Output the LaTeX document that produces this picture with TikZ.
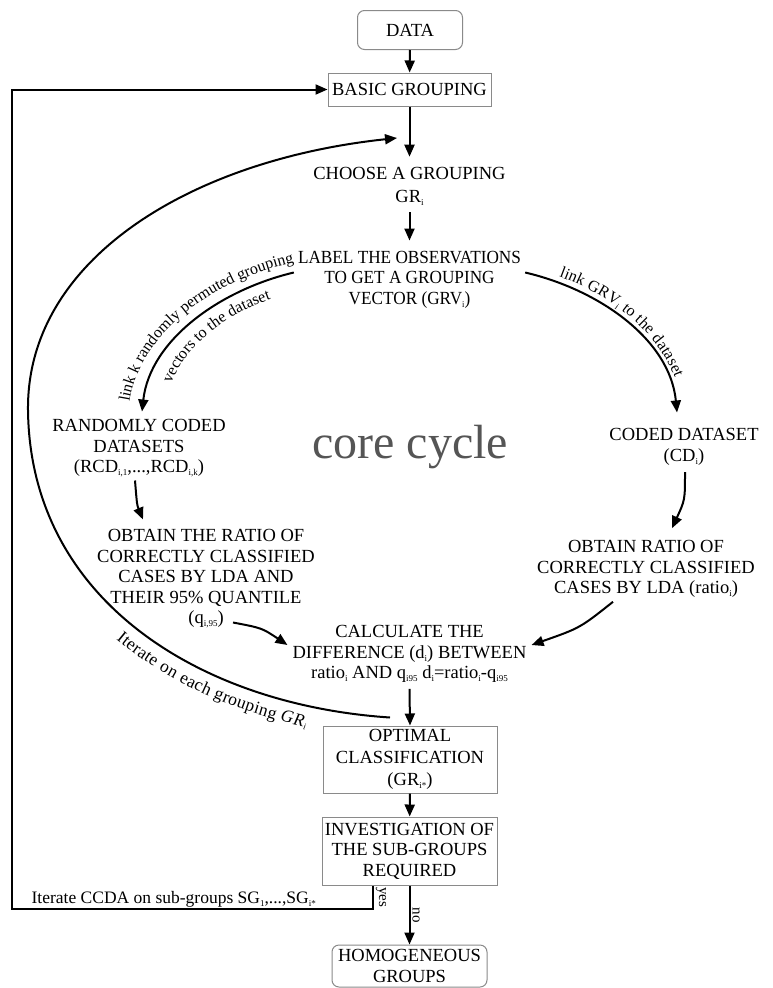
\documentclass[tikz,border=0pt]{standalone}
\usepackage{fontspec}
\setmainfont{Liberation Serif}
\usetikzlibrary{arrows.meta,calc,decorations.text}
\definecolor{boxgray}{HTML}{8A8A8A}
\definecolor{coregray}{HTML}{555555}
\newcommand\mf{\fontsize{18.5}{20.5}\selectfont}
\newcommand\lf{\fontsize{16}{17}\selectfont}
\newcommand\itf{\fontsize{17.5}{19}\selectfont}
\newcommand\sbs[1]{\raisebox{-0.35ex}{\fontsize{9}{9}\selectfont #1}}
\begin{document}
\begin{tikzpicture}[x=1pt,y=-1pt,
  txt/.style={align=center,font=\mf,inner sep=0pt},
  box/.style={draw=boxgray,line width=1pt,align=center,font=\mf,inner sep=1pt},
  rbox/.style={box,rounded corners=7pt},
  arr/.style={-{Triangle[length=12pt,width=10pt]},line width=2pt},
  side/.style={font=\fontsize{15}{15}\selectfont,inner sep=2pt}]
\fill[white] (0,0) rectangle (772,988);
\useasboundingbox (0,0) rectangle (772,988);

% nodes
\node[rbox,minimum width=105pt,minimum height=39pt] (data) at (410,30) {DATA};
\node[box,minimum width=163pt,minimum height=33pt] (basic) at (409.5,89.5) {BASIC GROUPING};
\node[txt] (choose) at (409.5,186) {CHOOSE A GROUPING\\[2.5pt] GR\sbs{i}};
\node[txt] (label) at (409.5,279.5) {\scalebox{0.93}[1]{\begin{tabular}{@{}c@{}}LABEL THE OBSERVATIONS\\TO GET A GROUPING\\VECTOR (GRV\sbs{i})\end{tabular}}};
\node[txt] (rcd) at (139,448.5) {RANDOMLY CODED\\DATASETS\\(RCD\sbs{i,1},...,RCD\sbs{i,k})};
\node[txt] (cd) at (684,447) {CODED DATASET\\(CD\sbs{i})};
\node[txt] (obl) at (206,579) {OBTAIN THE RATIO OF\\CORRECTLY CLASSIFIED\\CASES BY LDA AND\\THEIR 95\% QUANTILE\\(q\sbs{i,95})};
\node[txt] (obr) at (646,569) {OBTAIN RATIO OF\\CORRECTLY CLASSIFIED\\CASES BY LDA (ratio\sbs{i})};
\node[txt] (diff) at (409.5,654) {CALCULATE THE\\DIFFERENCE (d\sbs{i}) BETWEEN\\ratio\sbs{i} AND q\sbs{i95} d\sbs{i}=ratio\sbs{i}-q\sbs{i95}};
\node[box,minimum width=174pt,minimum height=67pt] (opt) at (410,759.5) {OPTIMAL\\[1.5pt]CLASSIFICATION\\[1.5pt](GR\sbs{i*})};
\node[box,minimum width=175pt,minimum height=68pt] (inv) at (409.5,851) {INVESTIGATION OF\\THE SUB-GROUPS\\REQUIRED};
\node[rbox,minimum width=155pt,minimum height=42pt] (hom) at (409.5,966) {HOMOGENEOUS\\GROUPS};
\node[font=\fontsize{48}{48}\selectfont,text=coregray,anchor=base,inner sep=0pt] (core) at (410,458) {core cycle};

% coordinates for free ends
\coordinate (c1a) at ([xshift=-4pt,yshift=7pt]label.west);
\coordinate (c1b) at ([xshift=3pt,yshift=8pt]rcd.north);
\coordinate (c2a) at ([xshift=4pt,yshift=7pt]label.east);
\coordinate (c2b) at ([xshift=-7pt,yshift=16pt]cd.north);
\coordinate (itstart) at ([xshift=-20pt,yshift=8pt]opt.north);
\coordinate (itend) at (397,138);
\coordinate (loopbl) at (12,909);
\coordinate (looptl) at (loopbl |- basic.west);

% straight arrows
\draw[arr] (data) -- (basic);
\draw[arr] (basic.south) -- ([yshift=10pt]choose.north);
\draw[arr] ([yshift=-7pt]choose.south) -- ([yshift=8pt]label.north);
\draw[arr] ([yshift=-6pt]diff.south) -- (opt.north);
\draw[arr] (opt) -- (inv);
\draw[arr] (inv) -- node[side,pos=.5,rotate=-90,anchor=south] (no) {no} (hom);

% curved arrows of the core cycle
\draw[arr] (c1a) .. controls (220,290) and (150,340) .. (c1b);
\path[decorate,decoration={text along path,text={|\lf|link k randomly permuted grouping},text align=center}] (129,404) .. controls (139,333) and (215,279) .. (296,262);
\path[decorate,decoration={text along path,text={|\lf|vectors to the dataset},text align=center}] (164,416) .. controls (168,351) and (228,307) .. (303,290);

\draw[arr] (c2a) .. controls (600,290) and (670,340) .. (c2b);
\path[decorate,decoration={text along path,text={|\lf|link GRV{\sbs{i}} to the dataset},text align=center,raise=6pt}] (c2a) .. controls (600,290) and (670,340) .. (c2b);

\draw[arr] ([xshift=-4pt,yshift=-3pt]rcd.south) .. controls (137,505) .. ([xshift=-63pt,yshift=10pt]obl.north);
\draw[arr] ([xshift=1pt,yshift=-6.5pt]cd.south) .. controls (685,500) .. ([xshift=26pt,yshift=12pt]obr.north);
\draw[arr] ([xshift=27pt,yshift=6pt]obl.south) .. controls (262,628) .. ([xshift=-5pt,yshift=9pt]diff.west);
\draw[arr] ([xshift=-33pt,yshift=-4pt]obr.south) .. controls (580,628) .. ([xshift=5pt,yshift=9pt]diff.east);

% iterate loop
\draw[arr] (itstart) .. controls (200,705) and (30,600) .. (28,410) .. controls (26.4,260) and (190,160) .. (itend);
\path[decorate,decoration={text along path,text={|\itf|Iterate on each grouping |\itf\itshape|GR{\sbs{i}}},text align={left indent=244pt},raise=-21pt}] (28,410) .. controls (30,600) and (200,705) .. (itstart);

% sub-group loop
\draw[arr] ([xshift=-36.5pt]inv.south) |- node[side,pos=.25,rotate=-90,anchor=south] (yes) {yes}
  node[pos=.776,anchor=south,font=\fontsize{17.5}{19}\selectfont,inner sep=0pt,yshift=1pt] (itccda) {Iterate CCDA on sub-groups SG\sbs{1},...,SG\sbs{i*}} (loopbl)
  -- (looptl) -- (basic.west);
\end{tikzpicture}
\end{document}
